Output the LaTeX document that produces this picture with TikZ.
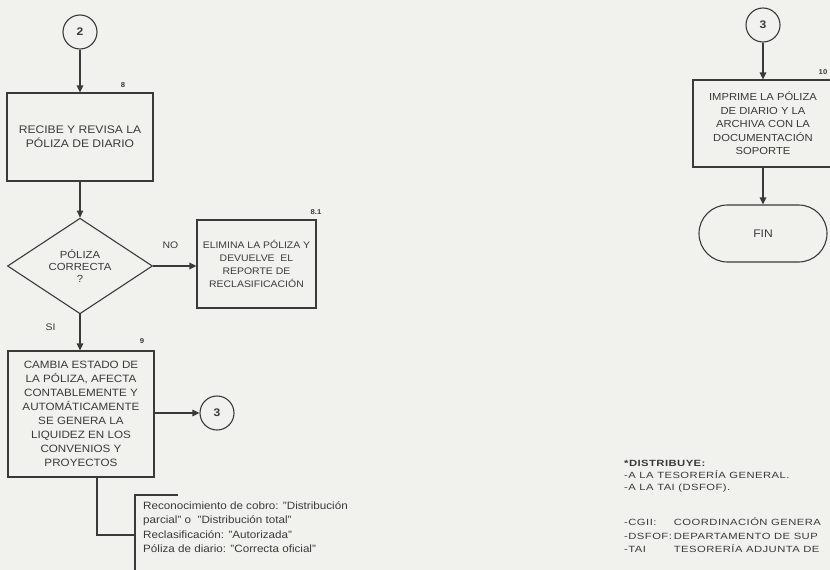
\documentclass[tikz,border=0pt]{standalone}
\usepackage{fontspec}
\setmainfont{Liberation Sans}[FakeStretch=1.1]
\newfontfamily\distfont{Liberation Sans}[FakeStretch=1.25, LetterSpace=5]
\usetikzlibrary{arrows.meta,positioning,shapes.geometric,shapes.misc}
\definecolor{inkgray}{RGB}{58,58,58}
\definecolor{paper}{RGB}{241,241,238}
\tikzset{
  % flow chart boxes
  procbox/.style={draw=inkgray, line width=1.1pt, rectangle, align=center,
    inner sep=2pt, text=inkgray, font=\fontsize{11}{14}\selectfont},
  decbox/.style={procbox, diamond, minimum width=145pt, minimum height=92pt,
    inner sep=0pt, font=\fontsize{10.3}{12}\selectfont},
  termbox/.style={procbox, rounded rectangle, minimum width=132pt, minimum height=57pt},
  connode/.style={draw=inkgray, line width=1.1pt, circle, minimum size=34pt,
    inner sep=0pt, text=inkgray, font=\fontsize{11}{13}\selectfont\bfseries},
  % connectors
  flowln/.style={draw=inkgray, line width=1.1pt},
  flowarr/.style={flowln, -{Triangle[length=7pt,width=6.5pt]}},
  % small labels
  steplbl/.style={text=inkgray, font=\fontsize{7}{8}\selectfont\bfseries, inner sep=0pt},
  edgelbl/.style={text=inkgray, font=\fontsize{9.5}{11}\selectfont, inner sep=0pt},
  notetxt/.style={text=inkgray, align=left, inner sep=0pt},
}
\begin{document}
\begin{tikzpicture}[x=1pt, y=-1pt]
  % page
  \useasboundingbox (0,0) rectangle (830,570);
  \fill[paper] (0,0) rectangle (830,570);
  \clip (0,0) rectangle (830,570);

  % left column
  \node[connode] (c2) at (80,32) {2};
  \node[procbox, minimum width=146pt, minimum height=88pt] (recibe) at (80,137)
    {RECIBE Y REVISA LA\\PÓLIZA DE DIARIO};
  \node[steplbl] (n8) at (123,85) {8};
  \node[decbox] (correcta) at (80,266) {PÓLIZA\\CORRECTA\\?};
  \node[procbox, minimum width=119pt, minimum height=88pt,
    font=\fontsize{9.5}{13}\selectfont] (elimina) at (256.5,264)
    {ELIMINA LA PÓLIZA Y\\DEVUELVE\ \ EL\\REPORTE DE\\RECLASIFICACIÓN};
  \node[steplbl] (n81) at (316,212) {8.1};
  \node[procbox, minimum width=146pt, minimum height=126pt,
    font=\fontsize{10.6}{14}\selectfont] (cambia) at (81,414)
    {CAMBIA ESTADO DE\\LA PÓLIZA, AFECTA\\CONTABLEMENTE Y\\AUTOMÁTICAMENTE\\SE GENERA LA\\LIQUIDEZ EN LOS\\CONVENIOS Y\\PROYECTOS};
  \node[steplbl] (n9) at (142,341) {9};
  \node[connode] (c3a) at (217,413) {3};

  \draw[flowarr] (c2) -- (recibe);
  \draw[flowarr] (recibe) -- (correcta);
  \draw[flowarr] (correcta.east) -- (correcta.east -| elimina.west)
    node[edgelbl, pos=0.4, above=17pt] (no) {NO};
  \draw[flowarr] (correcta.south) -- (correcta.south |- cambia.north)
    node[edgelbl, pos=0.35, left=24pt] (si) {SI};
  \draw[flowarr] (cambia.east |- c3a) -- (c3a);

  % status note
  \coordinate (brktop) at (135,495);
  \coordinate (brkbot) at (135,575);
  \coordinate (brkjoin) at (135,535);
  \draw[flowln] ([xshift=16pt]cambia.south) |- (brkjoin);
  \draw[flowln] (brkbot) -- (brktop) -- ++(43,0);
  \node[notetxt, anchor=west, font=\fontsize{10.6}{14.5}\selectfont] (nota) at (143,527)
    {Reconocimiento de cobro: "Distribución\\parcial" o\ \ "Distribución total"\\Reclasificación: "Autorizada"\\Póliza de diario: "Correcta oficial"};

  % right column
  \node[connode] (c3b) at (763,25) {3};
  \node[procbox, minimum width=140pt, minimum height=87pt,
    font=\fontsize{10.2}{13.5}\selectfont] (imprime) at (763,123.5)
    {IMPRIME LA PÓLIZA\\DE DIARIO Y LA\\ARCHIVA CON LA\\DOCUMENTACIÓN\\SOPORTE};
  \node[steplbl] (n10) at (823,72) {10};
  \node[termbox] (fin) at (763,233.5) {FIN};
  \draw[flowarr] (c3b) -- (imprime);
  \draw[flowarr] (imprime) -- (fin);

  % distribution
  \node[notetxt, anchor=north west, font=\distfont\fontsize{9}{12}\selectfont] (distr) at (624,460)
    {\textbf{*DISTRIBUYE:}\\-A LA TESORERÍA GENERAL.\\-A LA TAI (DSFOF).};
  \node[notetxt, anchor=north west, font=\distfont\fontsize{9}{13.5}\selectfont] (siglas) at (624,516)
    {\begin{tabular}{@{}l@{\hspace{2pt}}l@{}}
      -CGII: & COORDINACIÓN GENERA\\
      -DSFOF: & DEPARTAMENTO DE SUP\\
      -TAI & TESORERÍA ADJUNTA DE
    \end{tabular}};
\end{tikzpicture}
\end{document}
